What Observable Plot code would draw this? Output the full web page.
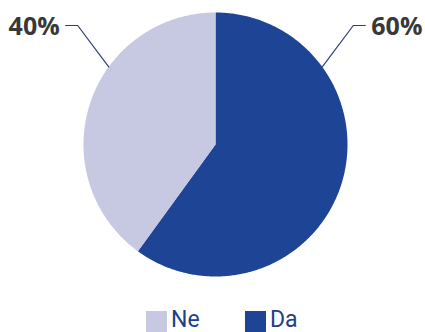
<!DOCTYPE html>
<html><head><meta charset="utf-8">
<script src="https://cdn.jsdelivr.net/npm/d3@7"></script>
<script src="https://cdn.jsdelivr.net/npm/@observablehq/plot@0.6"></script>
<style>
html,body{margin:0;padding:0;background:#fff;overflow:hidden;}
#chart{width:425px;position:relative;}
#chart svg{display:block;}
.legend{position:relative;height:29px;font-family:"Roboto",sans-serif;font-size:23px;color:#1e3f8a;}
.legend .sw{position:absolute;top:8px;width:21px;height:21px;}
.legend .tx{position:absolute;top:5px;line-height:23px;}
</style>
</head><body>
<div id="chart"></div>
<script>
const categories = ["Da", "Ne"];
const values = [60, 40];
const labels = ["60%", "40%"];
const colors = ["#1e4595", "#c7c8e2"];
const legendOrder = ["Ne", "Da"];

const W = 425, H = 303;
const cx = 215, cy = 144, R = 132;

const arcs = d3.pie().sort(null).value((d, i) => values[i])(categories);
const poly = [];
arcs.forEach((a, i) => {
  const n = Math.max(2, Math.ceil((a.endAngle - a.startAngle) / 0.01));
  poly.push({cat: categories[i], x: cx, y: cy});
  for (let k = 0; k <= n; k++) {
    const t = a.startAngle + (a.endAngle - a.startAngle) * k / n;
    poly.push({cat: categories[i], x: cx + R * Math.sin(t), y: cy - R * Math.cos(t)});
  }
  poly.push({cat: categories[i], x: cx, y: cy});
});

const leaderAng = 54 * Math.PI / 180;
const leaders = [], texts = [];
arcs.forEach((a, i) => {
  const mid = (a.startAngle + a.endAngle) / 2;
  const side = Math.sin(mid) >= 0 ? 1 : -1;
  const ex = cx + side * R * Math.sin(leaderAng), ey = cy - R * Math.cos(leaderAng);
  const elx = ex + side * 31, ely = 25;
  const enx = elx + side * 12;
  leaders.push({cat: categories[i], x: ex, y: ey}, {cat: categories[i], x: elx, y: ely}, {cat: categories[i], x: enx, y: ely});
  texts.push({label: labels[i], x: enx + side * 6, y: ely + 1, anchor: side > 0 ? "start" : "end"});
});

const plot = Plot.plot({
  width: W, height: H,
  margin: 0,
  x: {domain: [0, W], range: [0, W], axis: null},
  y: {domain: [0, H], range: [0, H], axis: null},
  color: {domain: categories, range: colors},
  style: {fontFamily: "Open Sans, sans-serif", background: "#fff"},
  marks: [
    Plot.line(poly, {x: "x", y: "y", z: "cat", fill: "cat", stroke: "none", curve: "linear"}),
    Plot.line(leaders, {x: "x", y: "y", z: "cat", stroke: "#2b3f7a", strokeWidth: 1.2}),
    Plot.text(texts.filter(d => d.anchor === "start"), {x: "x", y: "y", text: "label", textAnchor: "start", fontSize: 25, fontWeight: "bold", fill: "#383838"}),
    Plot.text(texts.filter(d => d.anchor === "end"), {x: "x", y: "y", text: "label", textAnchor: "end", fontSize: 25, fontWeight: "bold", fill: "#383838"})
  ]
});
document.getElementById("chart").appendChild(plot);

const legPos = {Ne: 146, Da: 245};
const leg = document.createElement("div");
leg.className = "legend";
legendOrder.forEach(c => {
  const sw = document.createElement("div");
  sw.className = "sw";
  sw.style.left = legPos[c] + "px";
  sw.style.background = colors[categories.indexOf(c)];
  const tx = document.createElement("span");
  tx.className = "tx";
  tx.style.left = (legPos[c] + 25) + "px";
  tx.textContent = c;
  leg.appendChild(sw); leg.appendChild(tx);
});
document.getElementById("chart").appendChild(leg);
</script>
</body></html>
